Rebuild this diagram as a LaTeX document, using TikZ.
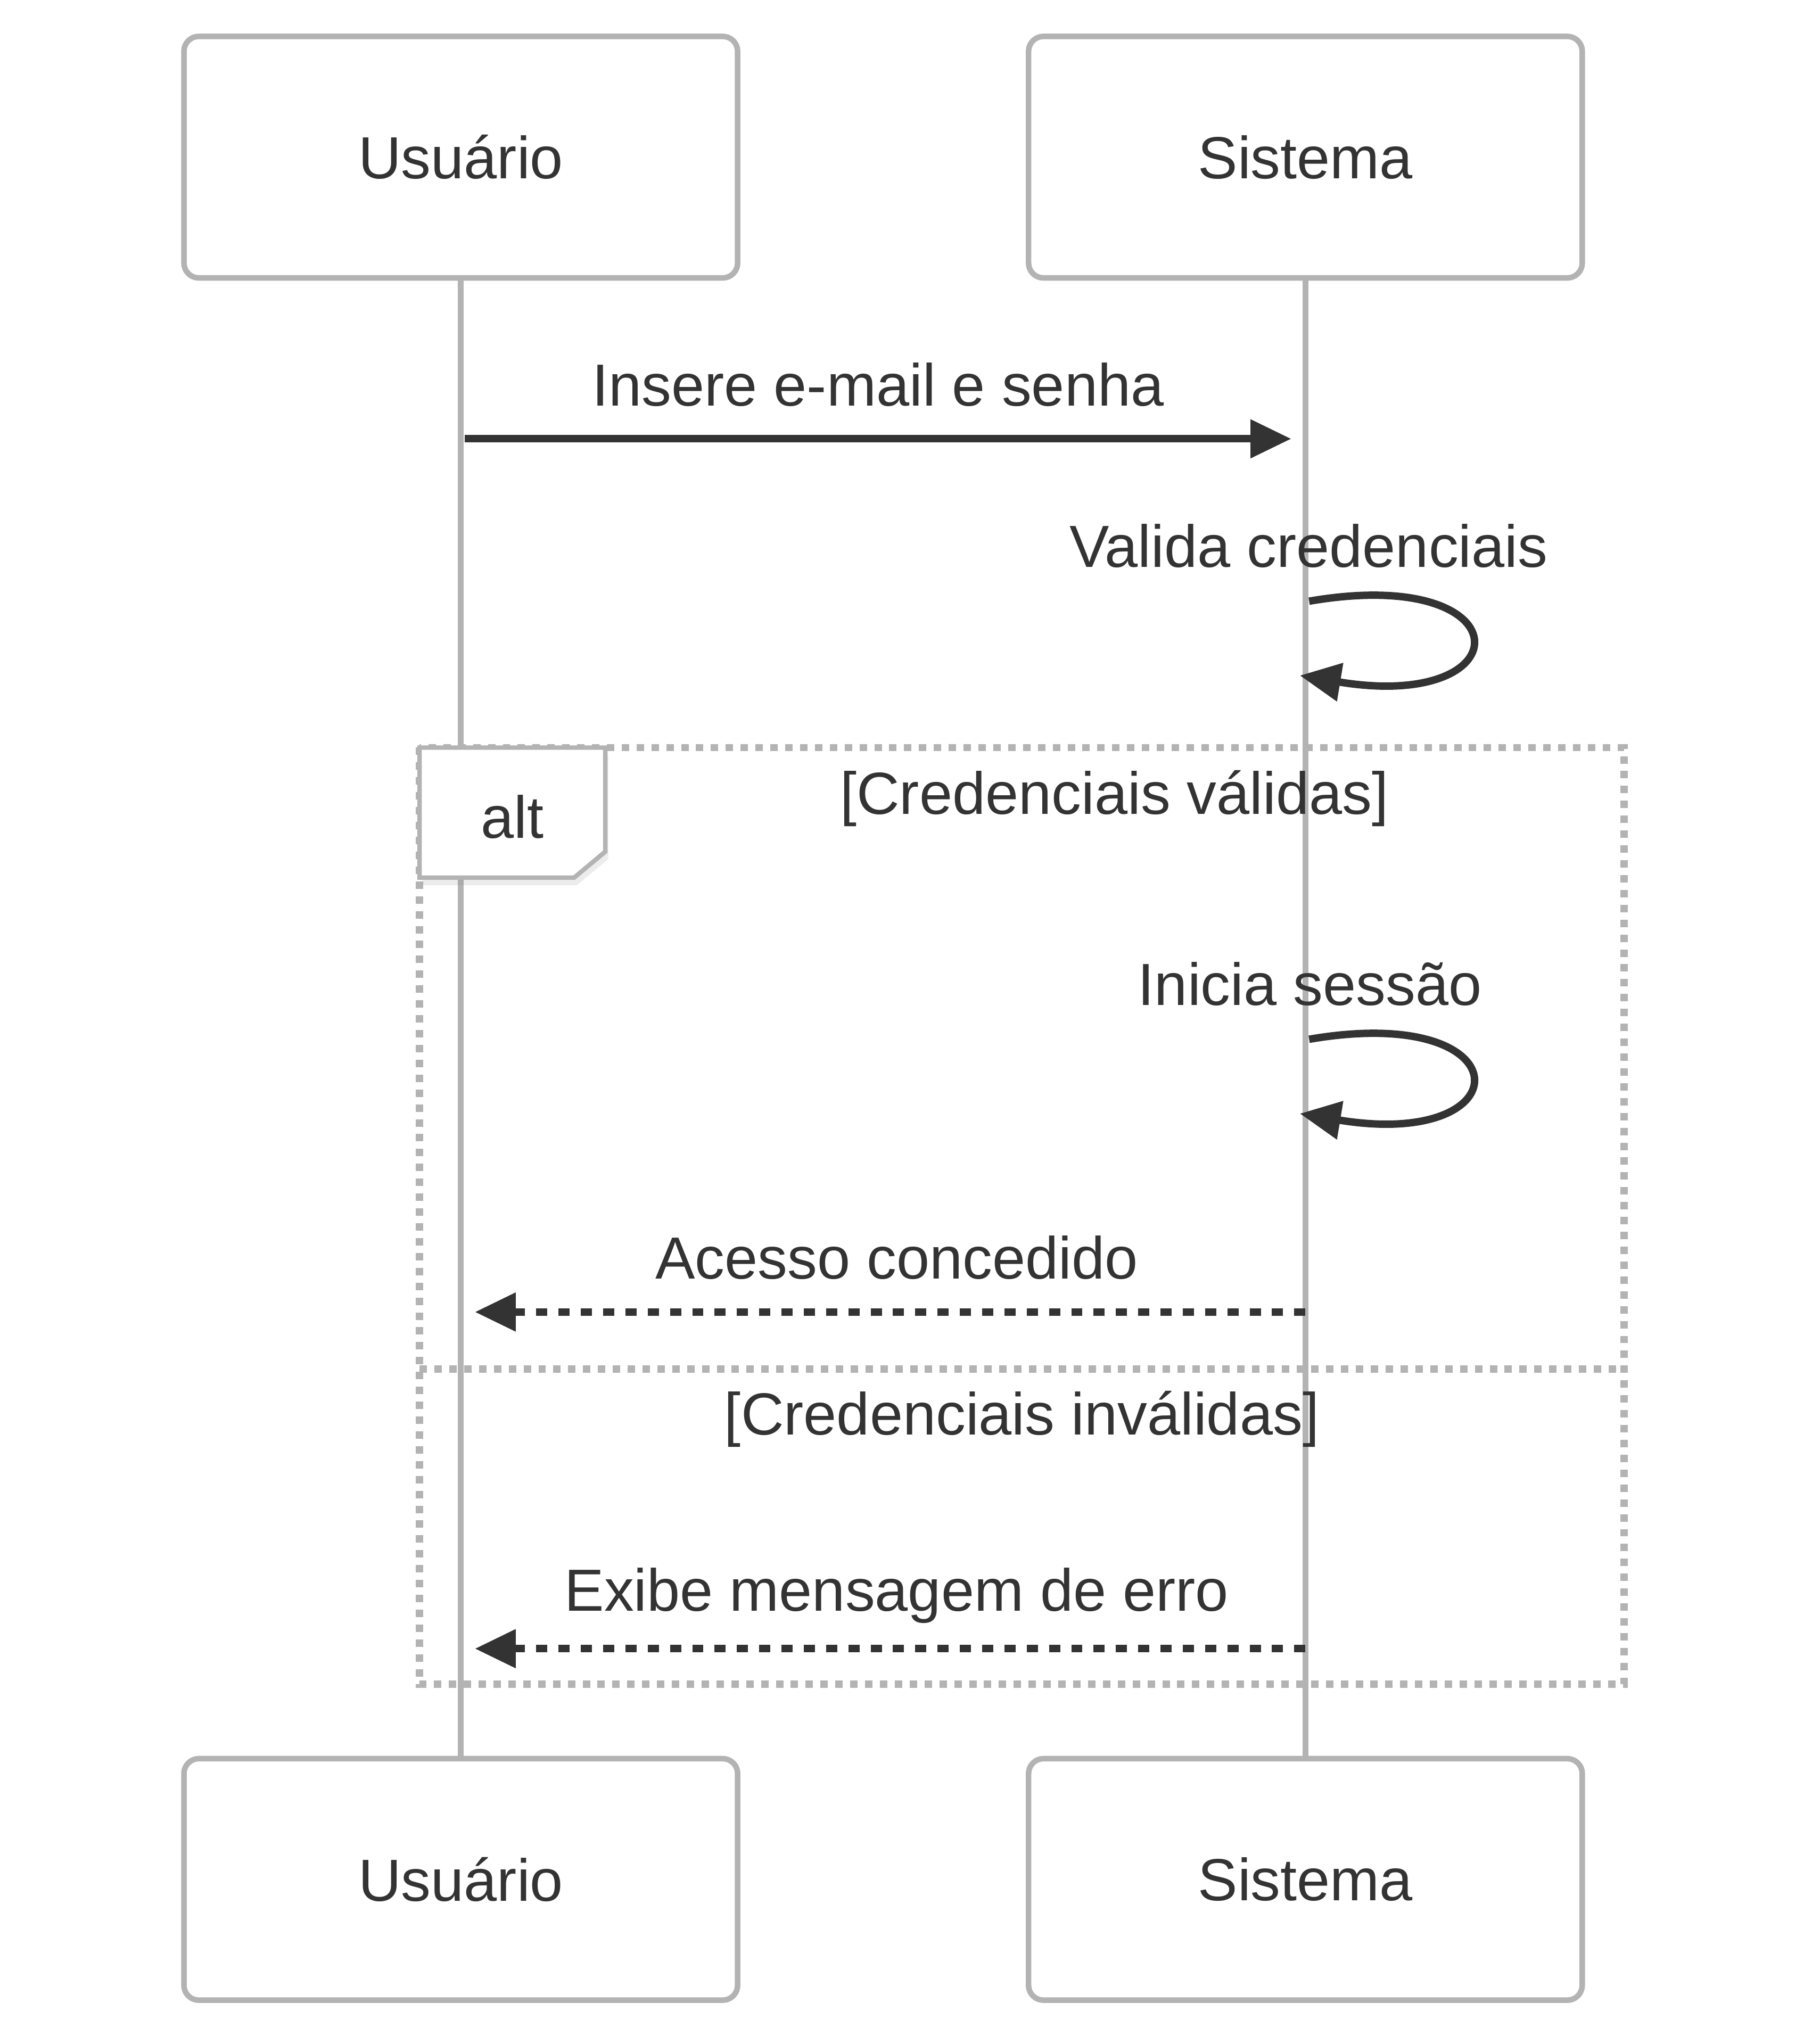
\documentclass[tikz,border=0pt]{standalone}
\usepackage{fontspec}
\setmainfont{Liberation Sans}
\usepackage{tikz}
\usetikzlibrary{positioning, arrows.meta, shadows}
\definecolor{ink}{HTML}{333333}
\definecolor{lgray}{HTML}{B3B3B3}

\begin{document}
\begin{tikzpicture}[x=1pt, y=-1pt, font=\fontsize{16}{19}\selectfont, text=ink,
		actor/.style={draw=lgray, line width=1.5pt, fill=white, rounded corners=4pt, minimum width=149pt, minimum height=65pt, inner sep=0pt},
		lifeline/.style={draw=lgray, line width=1.6pt},
		msg/.style={draw=ink, line width=2pt, -{Triangle[length=11pt, width=10pt]}},
		reply/.style={msg, dash pattern=on 3pt off 3pt},
		altframe/.style={draw=lgray, line width=2pt, dash pattern=on 2pt off 2pt},
		lbl/.style={anchor=base, inner sep=0pt}]
		\useasboundingbox (0,0) rectangle (487.5,550.1);
		\node[actor] (usr) at (124,42.3) {Usuário};
		\node[actor, right=76.8pt of usr] (sys) {Sistema};
		\node[actor] (usr2) at (124,505.8) {Usuário};
		\node[actor, right=76.8pt of usr2] (sys2) {Sistema};
		\foreach \from/\to in {usr/usr2,sys/sys2}
			\draw[lifeline] (\from) -- (\to);
		\draw[altframe] (112.9,201.2) rectangle (437,453.3);
		\draw[altframe] (112.9,368.4) -- (437,368.4);
		\filldraw[draw=lgray, fill=white, line width=1.2pt, drop shadow={opacity=0.15, shadow xshift=0.8pt, shadow yshift=-2pt}]
			(112.9,201.2) -- (162.9,201.2) -- (162.9,229.2) -- (154.5,236.2) -- (112.9,236.2) -- cycle;
		\node[lbl] (alt) at (137.9,225.5) {alt};
		\node[lbl] (g1) at (299.9,219.1) {[Credenciais válidas]};
		\node[lbl] (g2) at (275,386.1) {[Credenciais inválidas]};
		\node[lbl] (t1) at (236.3,109.2) {Insere e-mail e senha};
		\node[lbl] (t2) at (352.2,152.7) {Valida credenciais};
		\node[lbl] (t3) at (352.5,270.6) {Inicia sessão};
		\node[lbl] (t4) at (241.3,344.1) {Acesso concedido};
		\node[lbl] (t5) at (241.3,433.5) {Exibe mensagem de erro};
		\coordinate (a1) at (125,118.1);
		\coordinate (b1) at (347.5,118.1);
		\coordinate (c1) at (352.3,161.8);
		\coordinate (d1) at (349.8,181.8);
		\coordinate (c2) at (352.3,279.7);
		\coordinate (d2) at (349.8,299.7);
		\coordinate (a4) at (351.3,353.1);
		\coordinate (b4) at (127.8,353.1);
		\coordinate (a5) at (351.3,443.7);
		\coordinate (b5) at (127.8,443.7);
		\draw[msg] (a1) -- (b1);
		\foreach \from/\to in {c1/d1,c2/d2}
			\draw[msg] (\from) .. controls +(58,-10) and +(60.5,10) .. (\to);
		\foreach \from/\to in {a4/b4,a5/b5}
			\draw[reply] (\from) -- (\to);
	\end{tikzpicture}
\end{document}
